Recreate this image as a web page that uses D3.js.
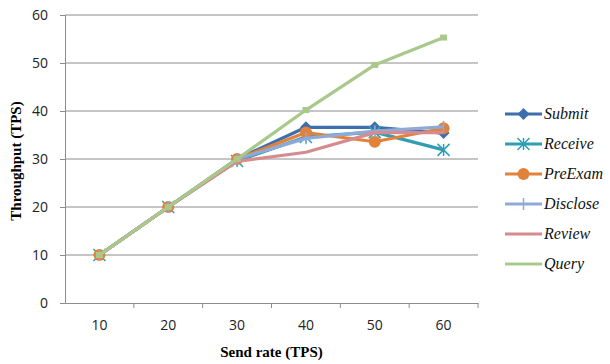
<!DOCTYPE html>
<html>
<head>
<meta charset="utf-8">
<script src="https://cdn.jsdelivr.net/npm/d3@7"></script>
<style>
  body { margin: 0; background: #fff; }
  svg { display: block; }
</style>
</head>
<body>
<script>
// chart data
const sendRates = [10, 20, 30, 40, 50, 60];
const yTicks = [0, 10, 20, 30, 40, 50, 60];
const seriesNames = ['Submit', 'Receive', 'PreExam', 'Disclose', 'Review', 'Query'];
const submit   = [10, 20, 30, 36.6, 36.6, 35.4];
const receive  = [10, 20, 29.6, 34.6, 35.6, 31.9];
const preExam  = [10, 20, 30, 35.5, 33.6, 36.4];
const disclose = [10, 20, 30, 34.3, 35.8, 36.7];
const review   = [10, 20, 29.5, 31.4, 35.5, 35.5];
const query    = [10, 20, 30, 40.2, 49.6, 55.3];

const seriesValues = [submit, receive, preExam, disclose, review, query];
const colors = ['#3d6fad', '#2f9db3', '#e2823a', '#8fa9d8', '#d68b8f', '#a9c98b'];
const markers = ['diamond', 'asterisk', 'circle', 'plus', 'none', 'square'];

const width = 610, height = 364;
const margin = { top: 15, right: 132, bottom: 61, left: 65 };

const svg = d3.select('body').append('svg')
  .attr('width', width)
  .attr('height', height);

const x = d3.scaleBand()
  .domain(sendRates)
  .range([margin.left, width - margin.right]);

const y = d3.scaleLinear()
  .domain([0, 60])
  .range([height - margin.bottom, margin.top]);

const tickFont = '"Open Sans", "Liberation Sans", sans-serif';

// gridlines
svg.append('g')
  .selectAll('line')
  .data(yTicks.filter(d => d > 0))
  .enter()
  .append('line')
  .attr('x1', margin.left)
  .attr('x2', width - margin.right)
  .attr('y1', d => y(d))
  .attr('y2', d => y(d))
  .attr('stroke', '#8c8c8c')
  .attr('stroke-width', 1);

// y axis
const yAxis = svg.append('g')
  .attr('transform', `translate(${margin.left},0)`)
  .call(d3.axisLeft(y).tickValues(yTicks).tickSize(5).tickPadding(12));
yAxis.select('.domain').attr('stroke', '#8c8c8c');
yAxis.selectAll('.tick line').attr('stroke', '#8c8c8c');
yAxis.selectAll('text')
  .attr('font-family', tickFont)
  .attr('font-size', 14)
  .attr('fill', '#222');

// x axis
const xAxis = svg.append('g')
  .attr('transform', `translate(0,${y(0)})`)
  .call(d3.axisBottom(x).tickSize(0).tickPadding(17));
xAxis.select('.domain').attr('stroke', '#8c8c8c');
xAxis.selectAll('text')
  .attr('font-family', tickFont)
  .attr('font-size', 14)
  .attr('fill', '#222');
// category boundary ticks
svg.append('g')
  .selectAll('line')
  .data(sendRates)
  .enter()
  .append('line')
  .attr('x1', d => x(d) + x.bandwidth())
  .attr('x2', d => x(d) + x.bandwidth())
  .attr('y1', y(0))
  .attr('y2', y(0) + 5)
  .attr('stroke', '#8c8c8c');

// axis titles
svg.append('text')
  .attr('x', (margin.left + width - margin.right) / 2)
  .attr('y', 357)
  .attr('text-anchor', 'middle')
  .attr('font-family', '"Liberation Serif", "Times New Roman", serif')
  .attr('font-weight', 'bold')
  .attr('font-size', 15)
  .text('Send rate (TPS)');

svg.append('text')
  .attr('transform', `translate(21,${(margin.top + y(0)) / 2 + 2}) rotate(-90)`)
  .attr('text-anchor', 'middle')
  .attr('font-family', '"Liberation Serif", "Times New Roman", serif')
  .attr('font-weight', 'bold')
  .attr('font-size', 15)
  .text('Throughput (TPS)');

const cx = d => x(d) + x.bandwidth() / 2;

function drawMarker(g, type, color, px, py) {
  if (type === 'diamond') {
    g.append('path')
      .attr('d', `M${px},${py - 6}L${px + 6},${py}L${px},${py + 6}L${px - 6},${py}Z`)
      .attr('fill', color);
  } else if (type === 'circle') {
    g.append('circle').attr('cx', px).attr('cy', py).attr('r', 6).attr('fill', color);
  } else if (type === 'square') {
    g.append('rect').attr('x', px - 3.5).attr('y', py - 3).attr('width', 7).attr('height', 6).attr('fill', color);
  } else if (type === 'asterisk') {
    const r = 6;
    g.append('path')
      .attr('d', `M${px - r},${py - r}L${px + r},${py + r}M${px - r},${py + r}L${px + r},${py - r}M${px},${py - r}L${px},${py + r}`)
      .attr('stroke', color).attr('stroke-width', 1.5).attr('fill', 'none');
  } else if (type === 'plus') {
    g.append('path')
      .attr('d', `M${px},${py - 6}L${px},${py + 6}`)
      .attr('stroke', color).attr('stroke-width', 1.5).attr('fill', 'none');
  }
}

const line = d3.line()
  .x((d, i) => cx(sendRates[i]))
  .y(d => y(d));

// series
seriesValues.forEach((vals, s) => {
  const g = svg.append('g');
  g.append('path')
    .datum(vals)
    .attr('d', line)
    .attr('fill', 'none')
    .attr('stroke', colors[s])
    .attr('stroke-width', 3.2)
    .attr('stroke-linejoin', 'round');
  vals.forEach((v, i) => drawMarker(g, markers[s], colors[s], cx(sendRates[i]), y(v)));
});

// legend
const legend = svg.append('g');
seriesNames.forEach((name, s) => {
  const ly = 114 + s * 30;
  const g = legend.append('g');
  g.append('line')
    .attr('x1', 505).attr('x2', 542)
    .attr('y1', ly).attr('y2', ly)
    .attr('stroke', colors[s]).attr('stroke-width', 3.2);
  drawMarker(g, markers[s] === 'square' ? 'none' : markers[s], colors[s], 523.5, ly);
  g.append('text')
    .attr('x', 544)
    .attr('y', ly + 5)
    .attr('font-family', '"Liberation Serif", "Times New Roman", serif')
    .attr('font-style', 'italic')
    .attr('font-size', 16)
    .attr('fill', '#111')
    .text(name);
});
</script>
</body>
</html>
